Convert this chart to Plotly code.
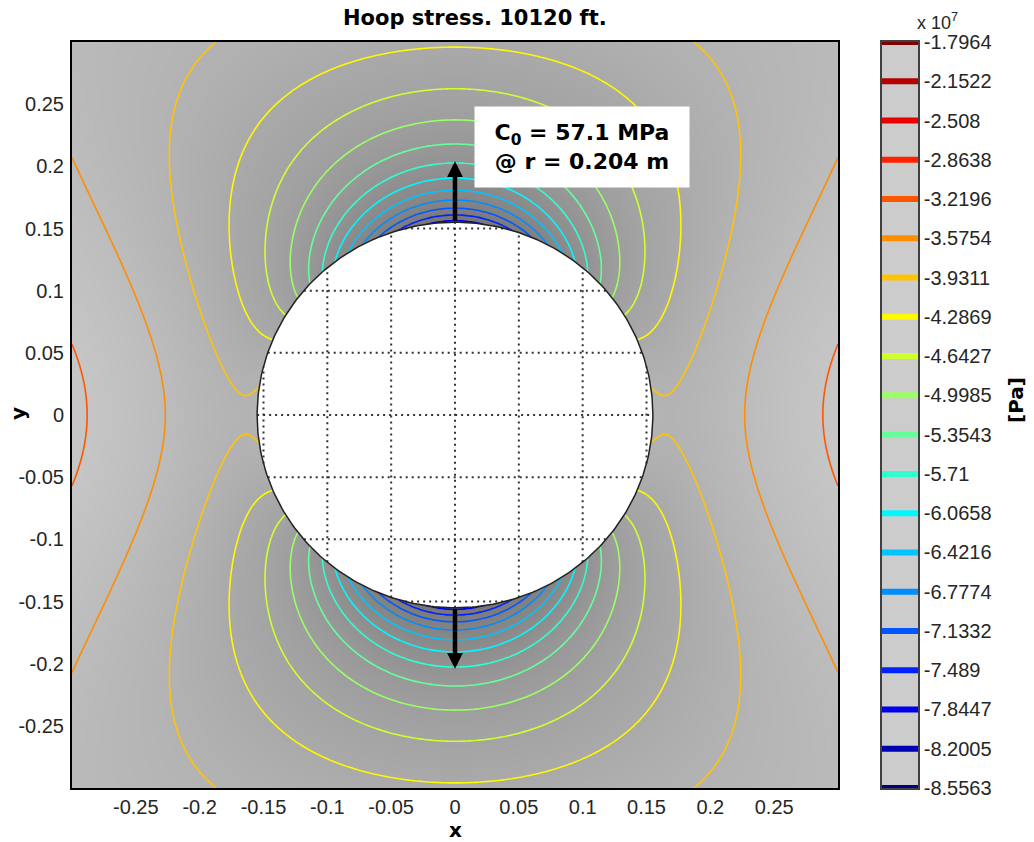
import numpy as np
import plotly.graph_objects as go

# --- geometry ---------------------------------------------------------------
A_HOLE = 0.155          # borehole radius [m]
R_C0 = 0.204            # radius at which C0 is reached [m]
C0_MPA = 57.1           # compressive strength label [MPa]

# --- contour levels (colour bar tick labels, x 1e7 Pa) ----------------------
LEVEL_LABELS = ["-1.7964", "-2.1522", "-2.508", "-2.8638", "-3.2196", "-3.5754",
                "-3.9311", "-4.2869", "-4.6427", "-4.9985", "-5.3543", "-5.71",
                "-6.0658", "-6.4216", "-6.7774", "-7.1332", "-7.489", "-7.8447",
                "-8.2005", "-8.5563"]

# --- axis ticks -------------------------------------------------------------
TICKS = [-0.25, -0.2, -0.15, -0.1, -0.05, 0, 0.05, 0.1, 0.15, 0.2, 0.25]
TICK_TEXT = ["-0.25", "-0.2", "-0.15", "-0.1", "-0.05", "0",
             "0.05", "0.1", "0.15", "0.2", "0.25"]

# --- hoop stress profiles (x 1e7 Pa) -----------------------------------------
# along the x axis (theta = 0)
R_X = [0.155, 0.166, 0.227, 0.288]
S_X = [-3.88, -3.91, -3.5754, -3.2196]
# along the y axis (theta = 90 deg)
R_Y = [0.157, 0.1605, 0.165, 0.173, 0.181, 0.192, 0.204, 0.218, 0.235, 0.259, 0.297, 0.30]
S_Y = [-7.8447, -7.489, -7.1332, -6.7774, -6.4216, -6.0658, -5.71, -5.3543,
       -4.9985, -4.6427, -4.2869, -4.275]
# along the diagonal (theta = 45 deg)
R_D = [0.155, 0.288, 0.424]
S_D = [-5.5, -4.05, -3.66]

# grey shading of the stress field
GRAY_LEVELS = [-8.6, -6.0, -4.3, -3.0]
GRAY_COLORS = ["#6c6c6c", "#8e8e8e", "#a9a9a9", "#cbcbcb"]

# MATLAB-style jet colormap
JET = [[0.0, "#000080"], [0.125, "#0000ff"], [0.375, "#00ffff"],
       [0.625, "#ffff00"], [0.875, "#ff0000"], [1.0, "#800000"]]

levels = [float(s) for s in LEVEL_LABELS]
lv_min, lv_max = min(levels), max(levels)
lv_step = (lv_max - lv_min) / (len(levels) - 1)

# --- build the field from the three radial profiles -------------------------
xs = np.linspace(-0.3, 0.3, 241)
ys = np.linspace(-0.3, 0.3, 241)
X, Y = np.meshgrid(xs, ys)
R = np.hypot(X, Y)
TH = np.arctan2(Y, X)
U = (A_HOLE / np.maximum(R, 1e-6)) ** 2

def profile(r, s, deg):
    c = np.polyfit((A_HOLE / np.asarray(r)) ** 2, s, deg)
    return np.polyval(c, U)

fx = profile(R_X, S_X, 2)
fy = profile(R_Y, S_Y, 3)
fd = profile(R_D, S_D, 2)
avg = 0.5 * (fx + fy)
P = 0.5 * (fd + avg)
Q = 0.5 * (fy - fx)
Rr = 0.5 * (fd - avg)
S = P - Q * np.cos(2 * TH) - Rr * np.cos(4 * TH)
S[R < 0.9 * A_HOLE] = np.nan

g_lo, g_hi = GRAY_LEVELS[0], GRAY_LEVELS[-1]
gray_scale = [[(v - g_lo) / (g_hi - g_lo), c] for v, c in zip(GRAY_LEVELS, GRAY_COLORS)]

contour_spec = dict(start=lv_min, end=lv_max, size=lv_step, coloring="lines")

fig = go.Figure()

fig.add_trace(go.Heatmap(x=xs, y=ys, z=S, colorscale=gray_scale, zmin=g_lo, zmax=g_hi,
                         zsmooth="best", showscale=False, hoverinfo="skip"))

fig.add_trace(go.Contour(x=xs, y=ys, z=S, contours=contour_spec, colorscale=JET,
                         line=dict(width=1.6), showscale=False, hoverinfo="skip"))

# borehole
t = np.linspace(0, 2 * np.pi, 361)
fig.add_trace(go.Scatter(x=A_HOLE * np.cos(t), y=A_HOLE * np.sin(t), mode="lines",
                         fill="toself", fillcolor="white", line=dict(width=0),
                         hoverinfo="skip", showlegend=False))

# dotted grid visible inside the hole
gx, gy = [], []
for v in TICKS:
    if abs(v) < A_HOLE:
        h = np.sqrt(A_HOLE ** 2 - v ** 2)
        gx += [v, v, None]
        gy += [-h, h, None]
        gx += [-h, h, None]
        gy += [v, v, None]
fig.add_trace(go.Scatter(x=gx, y=gy, mode="lines",
                         line=dict(color="#333333", width=2, dash="2px,4px"),
                         hoverinfo="skip", showlegend=False))

fig.add_trace(go.Scatter(x=A_HOLE * np.cos(t), y=A_HOLE * np.sin(t), mode="lines",
                         line=dict(color="#222222", width=1.5),
                         hoverinfo="skip", showlegend=False))

# colour bar drawn as its own small axes
cb_y = np.linspace(-9.0, -1.4, 77)
fig.add_trace(go.Contour(x=[0, 1], y=cb_y, z=[[v, v] for v in cb_y], contours=contour_spec,
                         colorscale=JET, line=dict(width=6), showscale=False,
                         hoverinfo="skip", xaxis="x2", yaxis="y2"))

font_ax = dict(family="Liberation Sans, Arial, sans-serif", size=20, color="#262626")
font_bold = dict(family="DejaVu Sans, Verdana, sans-serif", size=20, color="black")

dom_x = [72 / 1034, 838 / 1034]
dom_y = [1 - 788 / 842, 1 - 42 / 842]

fig.update_layout(
    width=1034, height=842,
    margin=dict(l=0, r=0, t=0, b=0, autoexpand=False),
    paper_bgcolor="white", plot_bgcolor="white",
    showlegend=False,
    xaxis=dict(domain=dom_x, range=[-0.3, 0.3], tickvals=TICKS, ticktext=TICK_TEXT,
               showgrid=False, zeroline=False, showline=True, mirror=True,
               linecolor="black", linewidth=2, ticks="", tickfont=font_ax,
               ticklabelstandoff=0, automargin=False),
    yaxis=dict(domain=dom_y, range=[-0.3, 0.3], tickvals=TICKS, ticktext=TICK_TEXT,
               showgrid=False, zeroline=False, showline=True, mirror=True,
               linecolor="black", linewidth=2, ticks="", tickfont=font_ax,
               ticklabelstandoff=2, automargin=False),
    xaxis2=dict(domain=[882 / 1034, 918 / 1034], range=[0, 1], showgrid=False,
                zeroline=False, showticklabels=False, showline=True, mirror=True,
                linecolor="#404040", linewidth=1.5, anchor="y2", automargin=False),
    yaxis2=dict(domain=dom_y, range=[lv_min, lv_max], tickvals=levels, ticktext=LEVEL_LABELS,
                side="right", showgrid=False, zeroline=False, showline=True, mirror=True,
                linecolor="#404040", linewidth=1.5, ticks="", tickfont=font_ax,
                anchor="x2", ticklabelstandoff=0, automargin=False),
    shapes=[dict(type="rect", xref="x2 domain", yref="y2 domain", x0=0, x1=1, y0=0, y1=1,
                 fillcolor="#cccccc", line=dict(width=0), layer="below")],
)

ann = [
    dict(text="<b>Hoop stress. 10120 ft.</b>", xref="paper", yref="paper",
         x=475 / 1034, y=1 - 18 / 842, xanchor="center", yanchor="middle",
         showarrow=False, font=dict(font_bold, size=21)),
    dict(text="<b>x</b>", xref="paper", yref="paper", x=455 / 1034, y=1 - 830 / 842,
         xanchor="center", yanchor="middle", showarrow=False, font=font_bold),
    dict(text="<b>y</b>", xref="paper", yref="paper", x=18 / 1034, y=1 - 414 / 842,
         xanchor="center", yanchor="middle", textangle=-90, showarrow=False, font=font_bold),
    dict(text="<b>[Pa]</b>", xref="paper", yref="paper", x=1016 / 1034, y=1 - 400 / 842,
         xanchor="center", yanchor="middle", textangle=-90, showarrow=False, font=font_bold),
    dict(text="x 10<sup>7</sup>", xref="paper", yref="paper", x=915 / 1034, y=1 - 22 / 842,
         xanchor="left", yanchor="middle", showarrow=False,
         font=dict(family="Liberation Sans, Arial, sans-serif", size=18, color="#262626")),
    dict(text=f"<b>C<sub>0</sub> = {C0_MPA} MPa<br>@ r = {R_C0} m</b>", xref="x", yref="y",
         x=0.0996, y=0.2153, xanchor="center", yanchor="middle", showarrow=False,
         bgcolor="white", width=200, height=66, borderpad=7, align="center",
         font=dict(family="DejaVu Sans, Verdana, sans-serif", size=22, color="black")),
]
for sgn in (1, -1):
    ann.append(dict(text="", x=0, y=sgn * R_C0, ax=0, ay=sgn * A_HOLE, xref="x", yref="y",
                    axref="x", ayref="y", showarrow=True, arrowhead=2, arrowsize=0.7,
                    arrowwidth=4.5, arrowcolor="black", standoff=0, startstandoff=0))
fig.update_layout(annotations=ann)

fig.write_html("out.html")
